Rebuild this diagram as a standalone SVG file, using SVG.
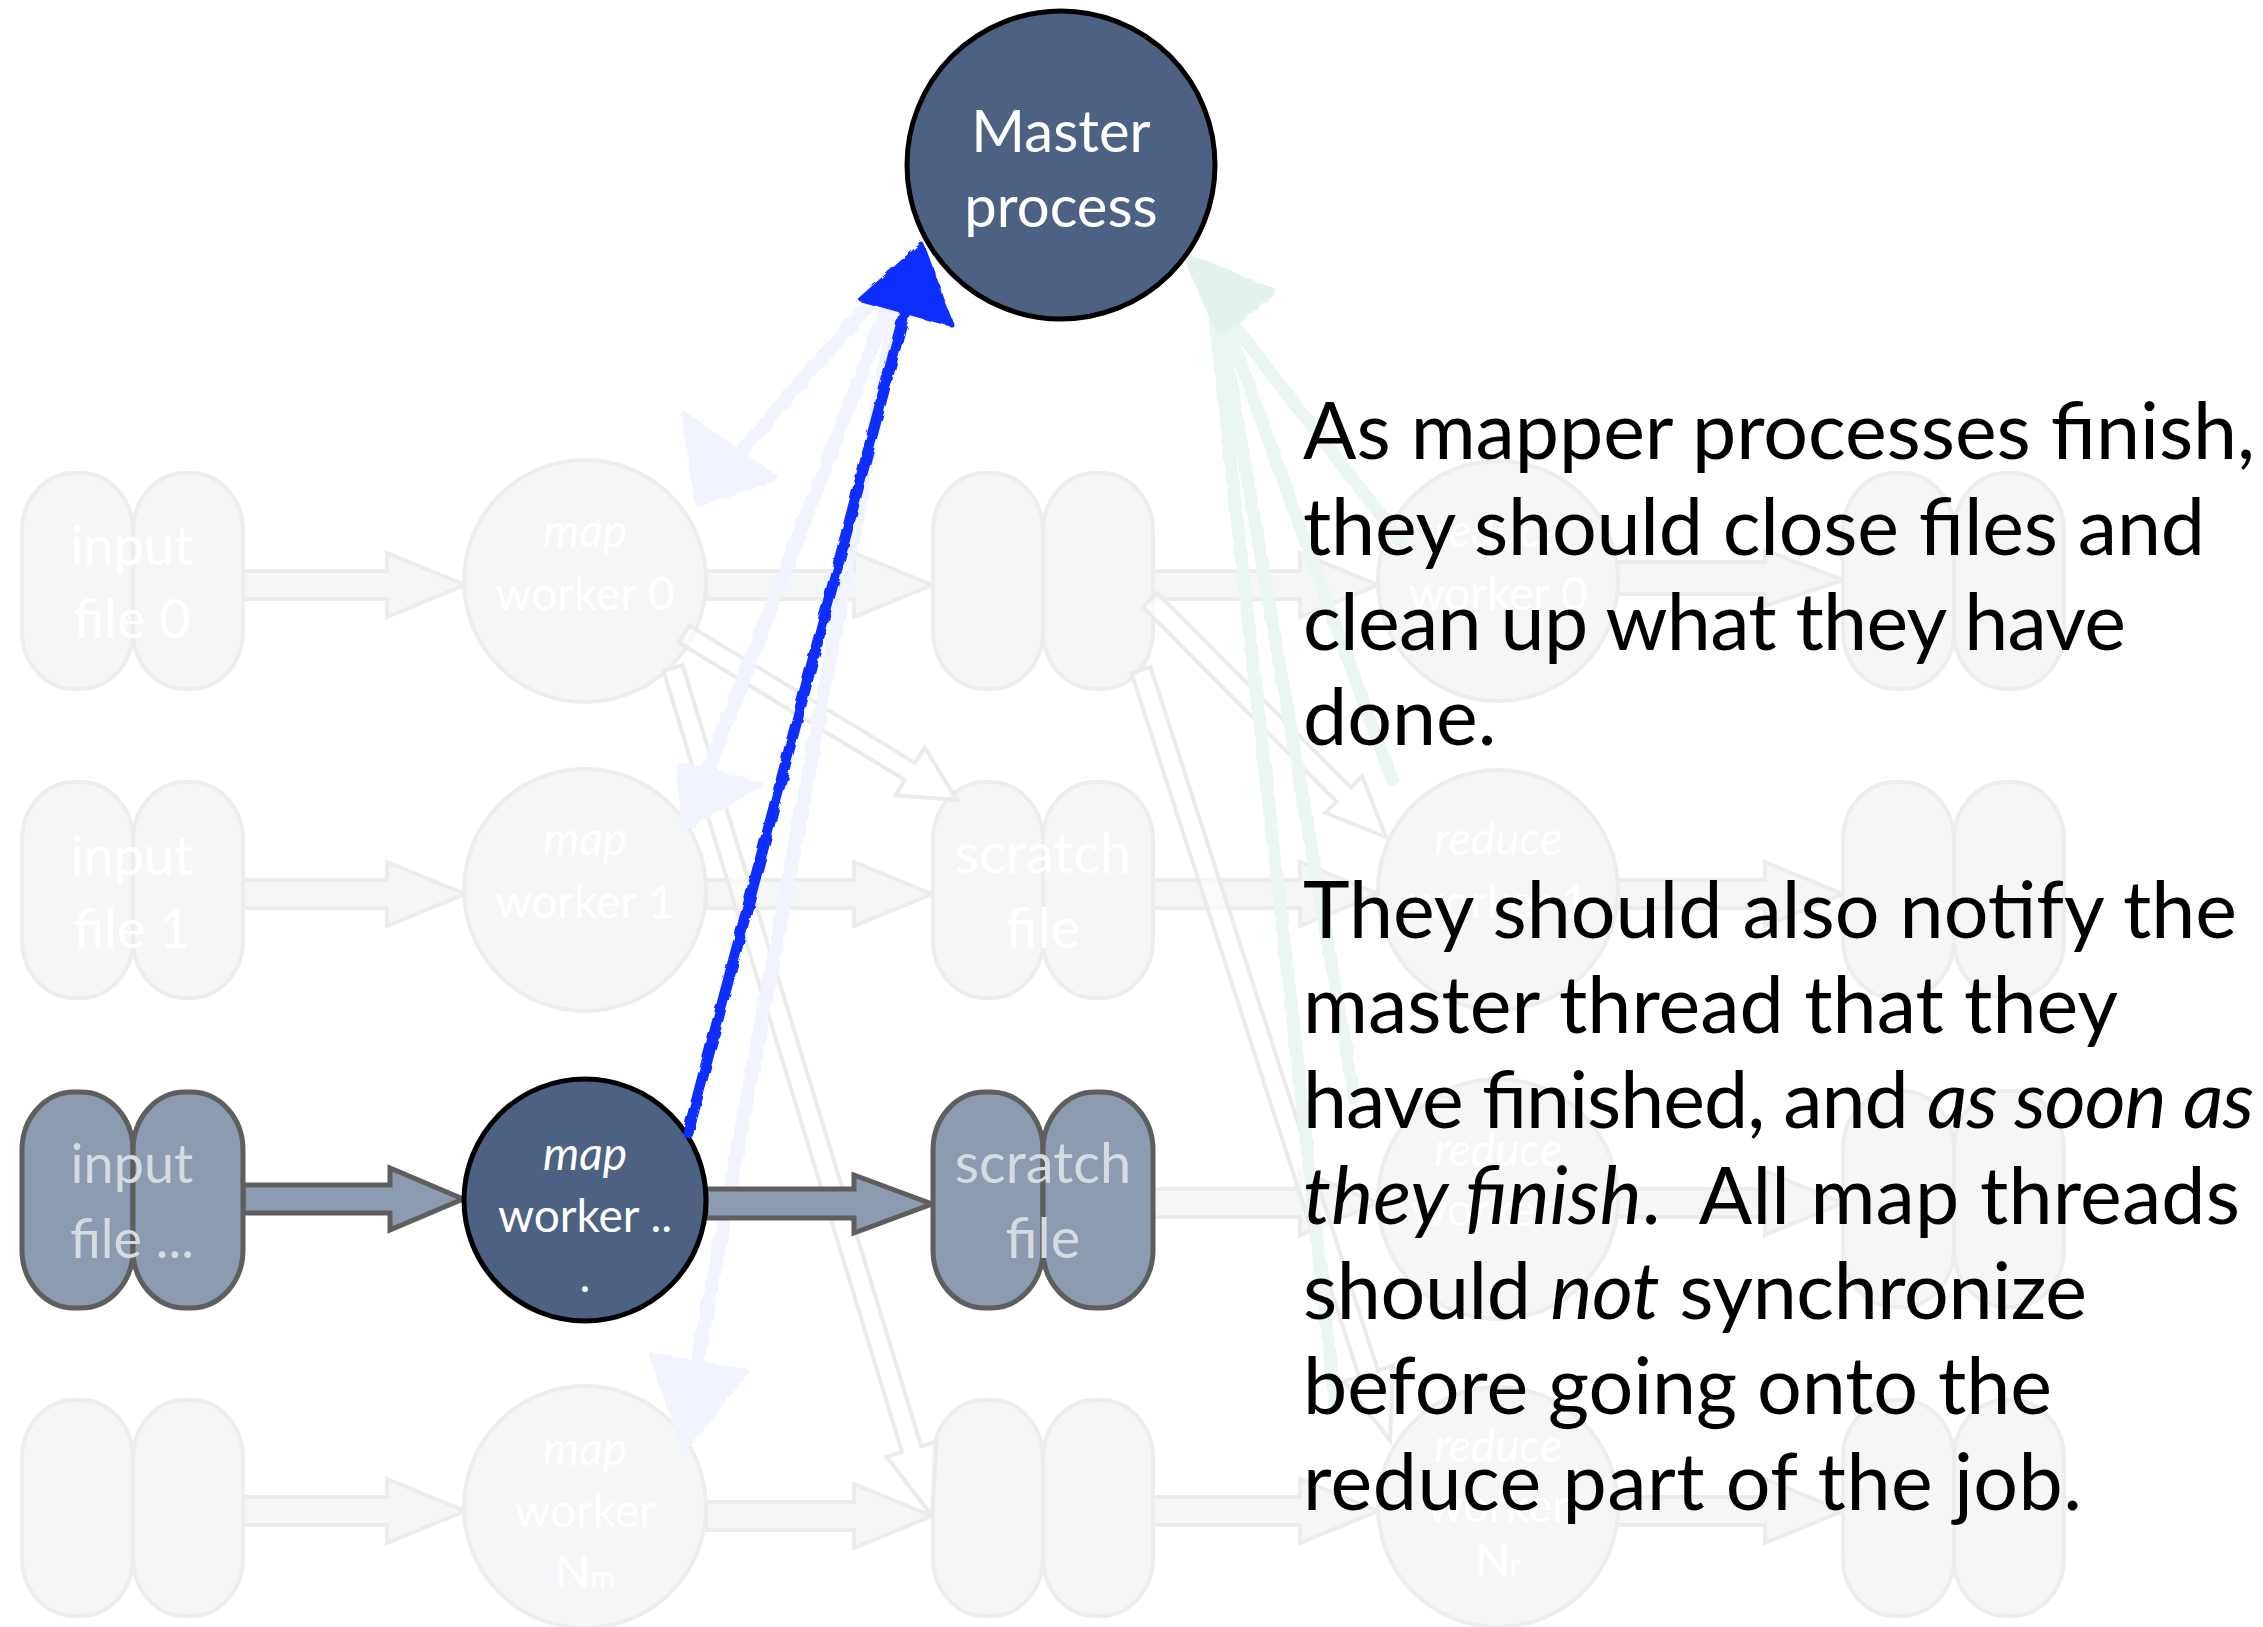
<svg xmlns="http://www.w3.org/2000/svg" width="2263" height="1627" viewBox="0 0 2263 1627">
<defs>
<style>
.fpill{fill:#f5f6f8;stroke:#ededee;stroke-width:4}
.fnode{fill:#f5f6f8;stroke:#ededee;stroke-width:4}
.farrow{fill:#f5f6f7;stroke:#ececec;stroke-width:4}
.xarrow{fill:#ffffff;fill-opacity:0.6;stroke:#ebebeb;stroke-width:4;stroke-linejoin:miter}
.ftxt{font-family:Lato,"Open Sans",sans-serif;fill:#ffffff;text-anchor:middle}
.hpill{fill:#8d9bb1;stroke:#5e5e5e;stroke-width:5}
.harrow{fill:#8d9bb1;stroke:#5e5e5e;stroke-width:5}
.htxt{font-family:Lato,"Open Sans",sans-serif;fill:#d6dae1;text-anchor:middle}
.dark{fill:#4d6282;stroke:#000;stroke-width:5}
.wtxt{font-family:Lato,"Open Sans",sans-serif;fill:#ffffff;text-anchor:middle}
.body{font-family:Lato,"Open Sans",sans-serif;font-size:79px;fill:#000}
.sk-blue{fill:none;stroke:#f1f4ff;stroke-width:14;stroke-linecap:round}
.skh-blue{fill:#f1f4ff;stroke:#f1f4ff;stroke-width:6;stroke-linejoin:round}
.sk-green{fill:none;stroke:#ecf6f1;stroke-width:13;stroke-linecap:round}
.skh-green{fill:#e4f2ec;stroke:#e4f2ec;stroke-width:8;stroke-linejoin:round}
</style>
<filter id="rough" x="-10%" y="-10%" width="120%" height="120%">
<feTurbulence type="fractalNoise" baseFrequency="0.08" numOctaves="2" seed="3"/>
<feDisplacementMap in="SourceGraphic" scale="5"/>
</filter>
</defs>
<rect width="2263" height="1627" fill="#ffffff"/>

<!-- faded connectors -->
<g id="connectors-faded">
<path class="farrow" d="M243,571 L387,571 L387,553 L465,585 L387,617 L387,599 L243,599 Z"/>
<path class="farrow" d="M706,571 L854,571 L854,553 L932,585 L854,617 L854,599 L706,599 Z"/>
<path class="farrow" d="M1153,571 L1300,571 L1300,553 L1378,585 L1300,617 L1300,599 L1153,599 Z"/>
<path class="farrow" d="M1617,562 L1765,562 L1765,550 L1843,580 L1765,606 L1765,594 L1617,594 Z"/>
<path class="farrow" d="M243,880 L387,880 L387,862 L465,894 L387,926 L387,908 L243,908 Z"/>
<path class="farrow" d="M706,880 L854,880 L854,862 L932,894 L854,926 L854,908 L706,908 Z"/>
<path class="farrow" d="M1153,880 L1300,880 L1300,862 L1378,894 L1300,926 L1300,908 L1153,908 Z"/>
<path class="farrow" d="M1617,880 L1765,880 L1765,862 L1843,894 L1765,926 L1765,908 L1617,908 Z"/>
<path class="farrow" d="M1153,1189 L1300,1189 L1300,1171 L1378,1203 L1300,1235 L1300,1217 L1153,1217 Z"/>
<path class="farrow" d="M1617,1189 L1765,1189 L1765,1171 L1843,1203 L1765,1235 L1765,1217 L1617,1217 Z"/>
<path class="farrow" d="M243,1497 L387,1497 L387,1479 L465,1511 L387,1543 L387,1525 L243,1525 Z"/>
<path class="farrow" d="M706,1502 L854,1502 L854,1484 L932,1516 L854,1548 L854,1530 L706,1530 Z"/>
<path class="farrow" d="M1153,1497 L1300,1497 L1300,1479 L1378,1511 L1300,1543 L1300,1525 L1153,1525 Z"/>
<path class="farrow" d="M1617,1497 L1765,1497 L1765,1479 L1843,1511 L1765,1543 L1765,1525 L1617,1525 Z"/>
</g>

<!-- faded nodes -->
<g id="input-file-0">
<rect class="fpill" x="22" y="473" width="111" height="216" rx="52" ry="58"/>
<rect class="fpill" x="133" y="473" width="110" height="216" rx="52" ry="58"/>
<text class="ftxt" x="132" y="565" font-size="54">input</text>
<text class="ftxt" x="132" y="638" font-size="54">file 0</text>
</g>
<g id="input-file-1">
<rect class="fpill" x="22" y="782" width="111" height="216" rx="52" ry="58"/>
<rect class="fpill" x="133" y="782" width="110" height="216" rx="52" ry="58"/>
<text class="ftxt" x="132" y="875" font-size="54">input</text>
<text class="ftxt" x="132" y="948" font-size="54">file 1</text>
</g>
<g id="input-file-n">
<rect class="fpill" x="22" y="1400" width="111" height="216" rx="52" ry="58"/>
<rect class="fpill" x="133" y="1400" width="110" height="216" rx="52" ry="58"/>
</g>
<g id="map-worker-0">
<circle class="fnode" cx="585" cy="581" r="121"/>
<text class="ftxt" x="585" y="547" font-size="46" font-style="italic">map</text>
<text class="ftxt" x="585" y="610" font-size="46">worker 0</text>
</g>
<g id="map-worker-1">
<circle class="fnode" cx="585" cy="890" r="121"/>
<text class="ftxt" x="585" y="855" font-size="46" font-style="italic">map</text>
<text class="ftxt" x="585" y="918" font-size="46">worker 1</text>
</g>
<g id="map-worker-nm">
<circle class="fnode" cx="585" cy="1507" r="121"/>
<text class="ftxt" x="585" y="1465" font-size="46" font-style="italic">map</text>
<text class="ftxt" x="585" y="1527" font-size="46">worker</text>
<text class="ftxt" x="585" y="1588" font-size="46">N<tspan font-size="30">m</tspan></text>
</g>
<g id="scratch-0">
<rect class="fpill" x="933" y="473" width="110" height="216" rx="52" ry="58"/>
<rect class="fpill" x="1043" y="473" width="110" height="216" rx="52" ry="58"/>
</g>
<g id="scratch-1">
<rect class="fpill" x="933" y="782" width="110" height="216" rx="52" ry="58"/>
<rect class="fpill" x="1043" y="782" width="110" height="216" rx="52" ry="58"/>
<text class="ftxt" x="1043" y="873" font-size="56">scratch</text>
<text class="ftxt" x="1043" y="948" font-size="56">file</text>
</g>
<g id="scratch-n">
<rect class="fpill" x="933" y="1400" width="110" height="216" rx="52" ry="58"/>
<rect class="fpill" x="1043" y="1400" width="110" height="216" rx="52" ry="58"/>
</g>
<g id="reduce-worker-0">
<circle class="fnode" cx="1498" cy="581" r="120"/>
<text class="ftxt" x="1498" y="547" font-size="46" font-style="italic">reduce</text>
<text class="ftxt" x="1498" y="610" font-size="46">worker 0</text>
</g>
<g id="reduce-worker-1">
<circle class="fnode" cx="1498" cy="890" r="120"/>
<text class="ftxt" x="1498" y="855" font-size="46" font-style="italic">reduce</text>
<text class="ftxt" x="1498" y="918" font-size="46">worker 1</text>
</g>
<g id="reduce-worker-2">
<circle class="fnode" cx="1498" cy="1199" r="120"/>
<text class="ftxt" x="1498" y="1166" font-size="46" font-style="italic">reduce</text>
<text class="ftxt" x="1498" y="1226" font-size="46">worker ..</text>
</g>
<g id="reduce-worker-nr">
<circle class="fnode" cx="1498" cy="1507" r="120"/>
<text class="ftxt" x="1498" y="1462" font-size="46" font-style="italic">reduce</text>
<text class="ftxt" x="1498" y="1522" font-size="46">worker</text>
<text class="ftxt" x="1498" y="1576" font-size="46">N<tspan font-size="30">r</tspan></text>
</g>
<g id="output-0">
<rect class="fpill" x="1843" y="473" width="111" height="216" rx="52" ry="58"/>
<rect class="fpill" x="1954" y="473" width="110" height="216" rx="52" ry="58"/>
</g>
<g id="output-1">
<rect class="fpill" x="1843" y="782" width="111" height="216" rx="52" ry="58"/>
<rect class="fpill" x="1954" y="782" width="110" height="216" rx="52" ry="58"/>
</g>
<g id="output-2">
<rect class="fpill" x="1843" y="1091" width="111" height="216" rx="52" ry="58"/>
<rect class="fpill" x="1954" y="1091" width="110" height="216" rx="52" ry="58"/>
</g>
<g id="output-n">
<rect class="fpill" x="1843" y="1400" width="111" height="216" rx="52" ry="58"/>
<rect class="fpill" x="1954" y="1400" width="110" height="216" rx="52" ry="58"/>
</g>

<!-- crossing outline arrows and faint sketch arrows -->
<g id="connectors-cross">
<polygon class="xarrow" points="678.8,642.5 904.8,780 895.4,795.3 957,800 924.6,747.5 915.2,762.9 689.2,625.5"/>
<polygon class="xarrow" points="663.4,670.9 902,1452 886.7,1456.7 932,1516 936.5,1441.5 921.2,1446.2 682.6,665.1"/>
<polygon class="xarrow" points="1142.9,607.1 1336.6,801.6 1325.3,812.8 1386,837 1362.1,776.2 1350.8,787.4 1157.1,592.9"/>
<polygon class="xarrow" points="1131.5,673.1 1359,1376.5 1343.8,1381.4 1390,1440 1393.2,1365.4 1378,1370.3 1150.5,666.9"/>
<g filter="url(#rough)">
<path class="sk-blue" d="M905,262 L725,470"/>
<polygon class="skh-blue" points="698,503 685,415 775,478"/>
<path class="sk-blue" d="M905,262 L700,790"/>
<polygon class="skh-blue" points="684,828 680,765 760,785"/>
<path class="sk-blue" d="M905,262 L692,1390"/>
<polygon class="skh-blue" points="684,1447 652,1355 746,1372"/>
<path class="sk-green" d="M1230,320 L1400,540"/>
<path class="sk-green" d="M1225,320 L1392,780"/>
<path class="sk-green" d="M1220,320 L1355,1100"/>
<path class="sk-green" d="M1215,320 L1335,1400"/>
<polygon class="skh-green" points="1188,258 1272,292 1220,332"/>
</g>
</g>

<!-- highlighted row -->
<g id="connectors-highlight">
<path class="harrow" d="M243,1185 L390,1185 L390,1168 L463,1199 L390,1230 L390,1213 L243,1213 Z"/>
<path class="harrow" d="M706,1189 L854,1189 L854,1175 L932,1204 L854,1233 L854,1218 L706,1218 Z"/>
</g>
<g id="input-file-2">
<rect class="hpill" x="22" y="1092" width="111" height="216" rx="52" ry="58"/>
<rect class="hpill" x="133" y="1092" width="110" height="216" rx="52" ry="58"/>
<text class="htxt" x="132" y="1183" font-size="54">input</text>
<text class="htxt" x="132" y="1258" font-size="54">file ...</text>
</g>
<g id="scratch-2">
<rect class="hpill" x="933" y="1092" width="110" height="216" rx="52" ry="58"/>
<rect class="hpill" x="1043" y="1092" width="110" height="216" rx="52" ry="58"/>
<text class="htxt" x="1043" y="1183" font-size="56">scratch</text>
<text class="htxt" x="1043" y="1258" font-size="56">file</text>
</g>
<g id="map-worker-2">
<circle class="dark" cx="585" cy="1200" r="121"/>
<text class="wtxt" x="585" y="1170" font-size="46" font-style="italic">map</text>
<text class="wtxt" x="585" y="1232" font-size="46">worker ..</text>
<text class="wtxt" x="585" y="1292" font-size="46">.</text>
</g>

<!-- notify arrow -->
<g id="connector-notify" filter="url(#rough)">
<line x1="688" y1="1133" x2="910" y2="292" stroke="#0a2eff" stroke-width="11" stroke-linecap="round"/>
<polygon points="922,245 861,299 951,324" fill="#0a2eff" stroke="#0a2eff" stroke-width="5" stroke-linejoin="round"/>
</g>

<g id="master-process">
<circle class="dark" cx="1061" cy="165" r="154"/>
<text class="wtxt" x="1061" y="152" font-size="58">Master</text>
<text class="wtxt" x="1061" y="227" font-size="58">process</text>
</g>

<g id="explanation" class="body">
<text x="1303" y="459" textLength="952" lengthAdjust="spacing">As mapper processes finish,</text>
<text x="1303" y="555" textLength="902" lengthAdjust="spacing">they should close files and</text>
<text x="1303" y="650" textLength="823" lengthAdjust="spacing">clean up what they have</text>
<text x="1303" y="745">done.</text>
<text x="1303" y="938" textLength="934" lengthAdjust="spacing">They should also notify the</text>
<text x="1303" y="1033" textLength="815" lengthAdjust="spacing">master thread that they</text>
<text x="1303" y="1128" textLength="951" lengthAdjust="spacing">have finished, and <tspan font-style="italic">as soon as</tspan></text>
<text x="1303" y="1224" textLength="937" lengthAdjust="spacing"><tspan font-style="italic">they finish</tspan>.&#160; All map threads</text>
<text x="1303" y="1319" textLength="784" lengthAdjust="spacing">should <tspan font-style="italic">not</tspan> synchronize</text>
<text x="1303" y="1414" textLength="749" lengthAdjust="spacing">before going onto the</text>
<text x="1303" y="1510" textLength="779" lengthAdjust="spacing">reduce part of the job.</text>
</g>
</svg>
